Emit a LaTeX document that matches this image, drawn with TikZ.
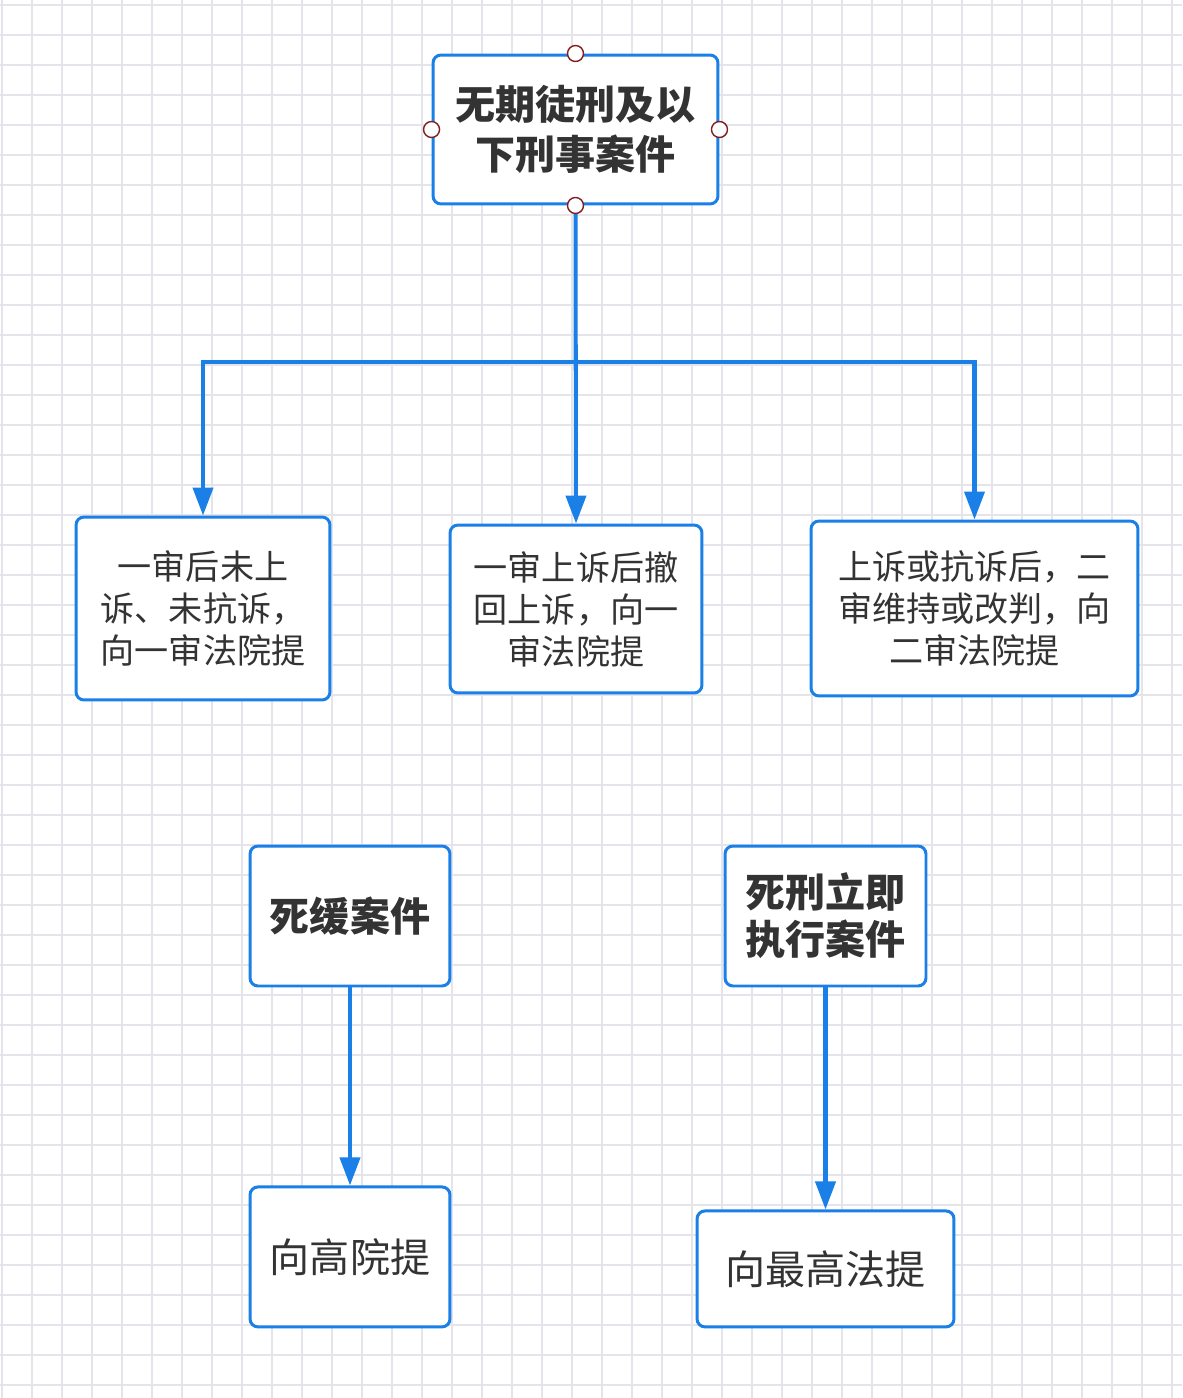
\documentclass[tikz,border=0pt]{standalone}
\usepackage{fontspec}
\setmainfont{Noto Sans CJK SC}
\usepackage{tikz}
\usetikzlibrary{arrows.meta,positioning}
\definecolor{flowblue}{RGB}{26,127,230}
\definecolor{inkgray}{RGB}{51,51,51}
\definecolor{gridgray}{RGB}{228,228,234}
\definecolor{hubred}{RGB}{130,30,30}
\tikzset{
  casebox/.style = {rectangle, rounded corners=0.16cm, draw=flowblue, line width=1.7pt, fill=white, text=inkgray, align=center, inner sep=0pt},
  headbox/.style = {casebox, font=\fontsize{22.8}{28.5}\selectfont\bfseries},
  stepbox/.style = {casebox, font=\fontsize{19.4}{23.9}\selectfont},
  endbox/.style = {casebox, font=\fontsize{22.8}{27}\selectfont},
  hub/.style = {circle, draw=hubred, fill=white, line width=0.8pt, inner sep=0pt, minimum size=0.32cm},
  link/.style = {draw=flowblue, line width=2.3pt, -{Triangle[length=0.56cm,width=0.4cm]}},
  gridline/.style = {draw=gridgray, line width=0.6pt},
}
\begin{document}
\begin{tikzpicture}[x=0.02cm, y=-0.02cm]
\useasboundingbox (0,0) rectangle (1182,1398);
\fill[white] (0,0) rectangle (1182,1398);
\foreach \gx in {2,32,...,1182} \draw[gridline] (\gx,0) -- (\gx,1398);
\foreach \gy in {5,35,...,1398} \draw[gridline] (0,\gy) -- (1182,\gy);

% upper tree
\node [headbox, minimum width=5.7cm, minimum height=2.98cm] (T) at (575.5,129.5) {无期徒刑及以\\下刑事案件};
\node [stepbox, minimum width=5.08cm, minimum height=3.66cm] (A) at (203,608.5) {一审后未上\\诉、未抗诉，\\向一审法院提};
\node [stepbox, minimum width=5.04cm, minimum height=3.36cm] (B) at (576,609) {一审上诉后撤\\回上诉，向一\\审法院提};
\node [stepbox, minimum width=6.54cm, minimum height=3.5cm] (C) at (974.5,608.5) {上诉或抗诉后，二\\审维持或改判，向\\二审法院提};
\coordinate (fork) at (575.5,362);
\draw[link] (T.south) -- (B.north);
\draw[link] (fork) -| (A.north);
\draw[link] (fork) -| (C.north);
\foreach \side in {north,south,west,east} \node [hub] at (T.\side) {};

% death penalty cases
\node [headbox, minimum width=4cm, minimum height=2.8cm] (D) at (350,916) {死缓案件};
\node [headbox, minimum width=4.02cm, minimum height=2.8cm, font=\fontsize{22.8}{26.8}\selectfont\bfseries] (E) at (825.5,916) {死刑立即\\执行案件};
\node [endbox, minimum width=4cm, minimum height=2.8cm, below=3.96cm of D] (F) {向高院提};
\node [endbox, minimum width=5.14cm, minimum height=2.32cm, below=4.44cm of E] (G) {向最高法提};
\draw[link] (D) -- (F);
\draw[link] (E) -- (G);
\end{tikzpicture}
\end{document}
